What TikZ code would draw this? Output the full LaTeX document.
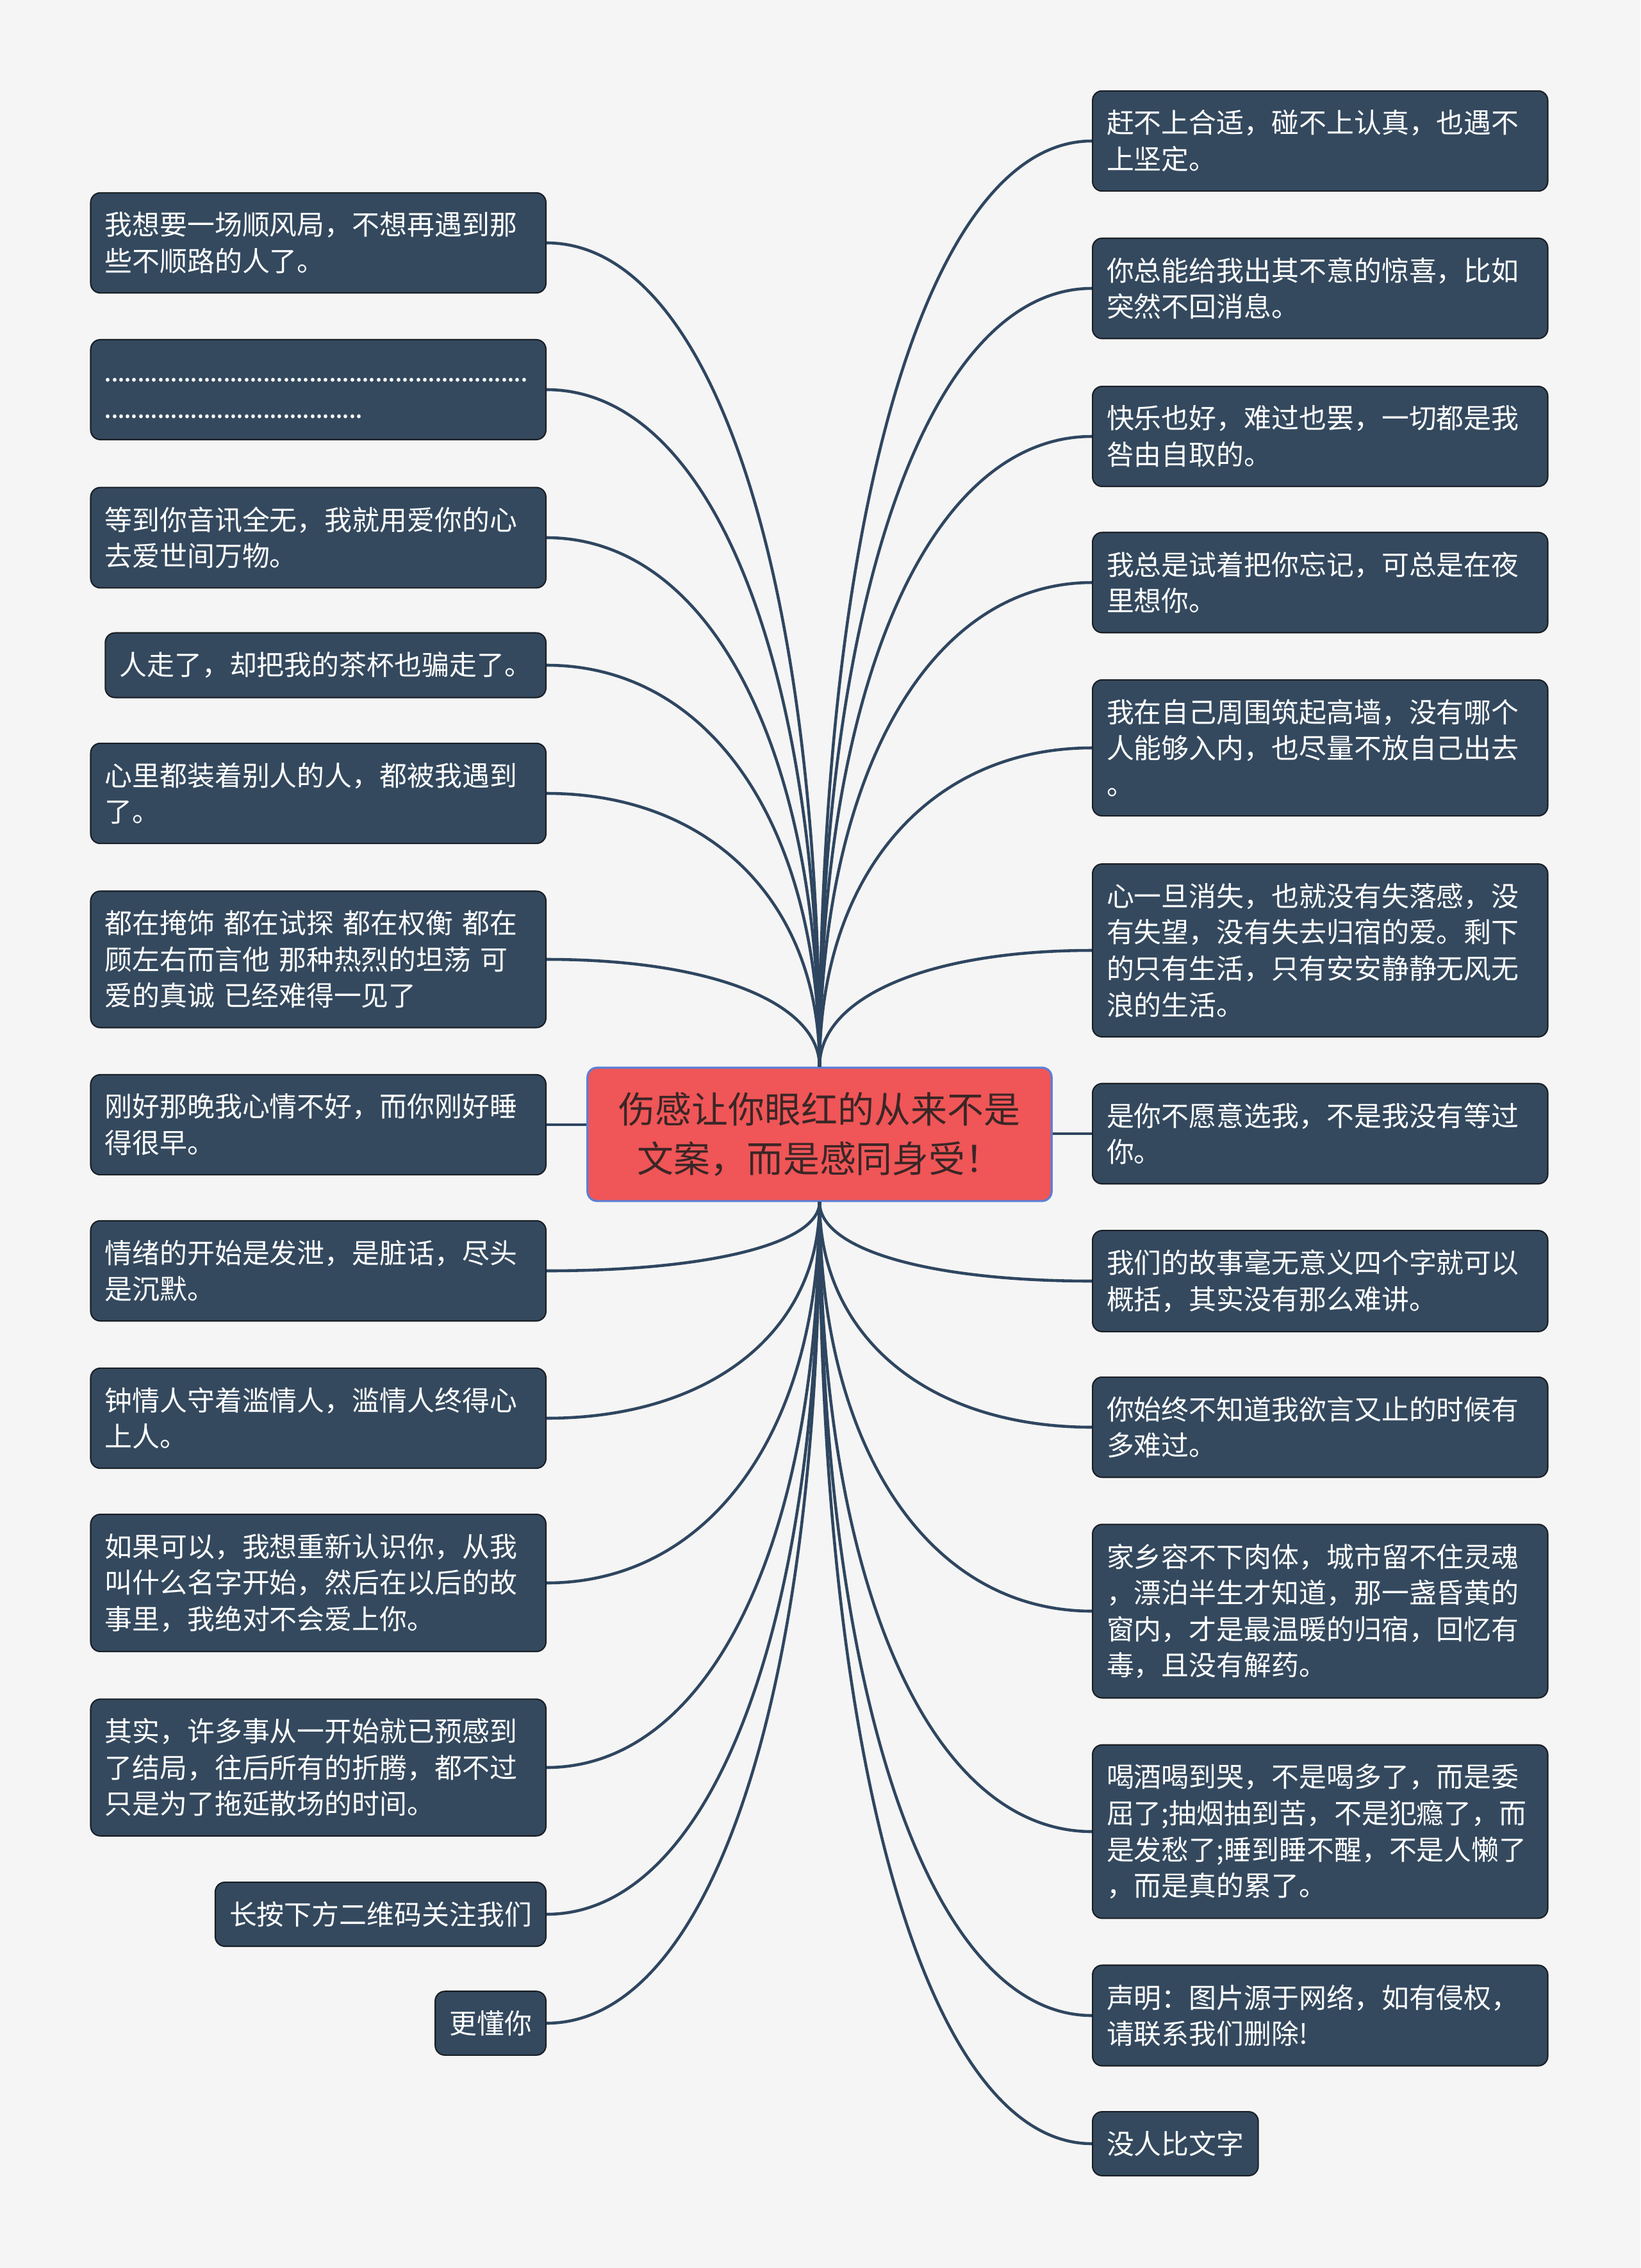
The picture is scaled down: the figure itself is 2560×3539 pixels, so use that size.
\documentclass[tikz,border=0pt]{standalone}
\usepackage{fontspec}
\setmainfont{Noto Sans CJK SC}
\usepackage{tikz}
\usetikzlibrary{calc}
\usepackage{xcolor}

\definecolor{bgcol}{HTML}{F5F5F5}
\definecolor{leaffill}{HTML}{34495E}
\definecolor{leafline}{HTML}{1A1F26}
\definecolor{linkcol}{HTML}{2F4660}
\definecolor{themefill}{HTML}{F05557}
\definecolor{themeline}{HTML}{5B7FD6}
\definecolor{themetext}{HTML}{3A2626}

\newcommand{\dotrun}[1]{\vphantom{我}\makebox[#1][l]{\leaders\hbox to 0.103cm{\hss.\hss}\hfill}}

\begin{document}
\begin{tikzpicture}[
    x=0.01cm, y=-0.01cm,
    theme/.style={rectangle, rounded corners=0.15cm, draw=themeline,
                  line width=0.9pt, fill=themefill, text=themetext,
                  align=center, minimum width=7.24cm, minimum height=2.08cm,
                  font=\fontsize{16.2pt}{21.8pt}\selectfont},
    idea/.style={rectangle, rounded corners=0.15cm, draw=leafline,
                 line width=0.6pt, fill=leaffill, text=white, align=left,
                 inner xsep=0.22cm, inner ysep=0.3cm,
                 font=\fontsize{12.2pt}{16.1pt}\selectfont},
    wide/.style={idea, text width=6.66cm},
    link/.style={draw=linkcol, line width=1.3pt}
  ]

  %% Canvas
  \fill[bgcol] (0,0) rectangle (2560,3539);
  \useasboundingbox (0,0) rectangle (2560,3539);

  %% Central topic
  \node[theme] (theme) at (1279,1770) {伤感让你眼红的从来不是\\文案，而是感同身受！};

  %% Left branches
  \node[wide, anchor=east] (l1) at (853,379) {我想要一场顺风局，不想再遇到那\\些不顺路的人了。};
  \node[wide, anchor=east] (l2) at (853,608) {\dotrun{6.63cm}\\\dotrun{4.06cm}};
  \node[wide, anchor=east] (l3) at (853,839) {等到你音讯全无，我就用爱你的心\\去爱世间万物。};
  \node[idea, anchor=east] (l4) at (853,1038) {人走了，却把我的茶杯也骗走了。};
  \node[wide, anchor=east] (l5) at (853,1238) {心里都装着别人的人，都被我遇到\\了。};
  \node[wide, anchor=east] (l6) at (853,1497) {都在掩饰 都在试探 都在权衡 都在\\顾左右而言他 那种热烈的坦荡 可\\爱的真诚 已经难得一见了};
  \node[wide, anchor=east] (l7) at (853,1755) {刚好那晚我心情不好，而你刚好睡\\得很早。};
  \node[wide, anchor=east] (l8) at (853,1983) {情绪的开始是发泄，是脏话，尽头\\是沉默。};
  \node[wide, anchor=east] (l9) at (853,2213) {钟情人守着滥情人，滥情人终得心\\上人。};
  \node[wide, anchor=east] (l10) at (853,2470) {如果可以，我想重新认识你，从我\\叫什么名字开始，然后在以后的故\\事里，我绝对不会爱上你。};
  \node[wide, anchor=east] (l11) at (853,2758) {其实，许多事从一开始就已预感到\\了结局，往后所有的折腾，都不过\\只是为了拖延散场的时间。};
  \node[idea, anchor=east] (l12) at (853,2987) {长按下方二维码关注我们};
  \node[idea, anchor=east] (l13) at (853,3157) {更懂你};

  %% Right branches
  \node[wide, anchor=west] (r1) at (1704,220) {赶不上合适，碰不上认真，也遇不\\上坚定。};
  \node[wide, anchor=west] (r2) at (1704,450) {你总能给我出其不意的惊喜，比如\\突然不回消息。};
  \node[wide, anchor=west] (r3) at (1704,681) {快乐也好，难过也罢，一切都是我\\咎由自取的。};
  \node[wide, anchor=west] (r4) at (1704,909) {我总是试着把你忘记，可总是在夜\\里想你。};
  \node[wide, anchor=west] (r5) at (1704,1167) {我在自己周围筑起高墙，没有哪个\\人能够入内，也尽量不放自己出去\\。};
  \node[wide, anchor=west] (r6) at (1704,1483) {心一旦消失，也就没有失落感，没\\有失望，没有失去归宿的爱。剩下\\的只有生活，只有安安静静无风无\\浪的生活。};
  \node[wide, anchor=west] (r7) at (1704,1769) {是你不愿意选我，不是我没有等过\\你。};
  \node[wide, anchor=west] (r8) at (1704,1999) {我们的故事毫无意义四个字就可以\\概括，其实没有那么难讲。};
  \node[wide, anchor=west] (r9) at (1704,2227) {你始终不知道我欲言又止的时候有\\多难过。};
  \node[wide, anchor=west] (r10) at (1704,2514) {家乡容不下肉体，城市留不住灵魂\\，漂泊半生才知道，那一盏昏黄的\\窗内，才是最温暖的归宿，回忆有\\毒，且没有解药。};
  \node[wide, anchor=west] (r11) at (1704,2858) {喝酒喝到哭，不是喝多了，而是委\\屈了;抽烟抽到苦，不是犯瘾了，而\\是发愁了;睡到睡不醒，不是人懒了\\，而是真的累了。};
  \node[wide, anchor=west] (r12) at (1704,3145) {声明：图片源于网络，如有侵权，\\请联系我们删除!};
  \node[idea, anchor=west] (r13) at (1704,3345) {没人比文字};

  %% Left links
  \foreach \n in {l1,l2,l3,l4,l5,l6}{
    \draw[link] (\n.east) .. controls ($(\n.east)!0.6!(\n.east -| theme.north)$)
      and ($(theme.north)!0.6!(theme.north |- \n.east)$) .. (theme.north);
  }
  \draw[link] (l7.east) -- (l7.east -| theme.west);
  \foreach \n in {l8,l9,l10,l11,l12,l13}{
    \draw[link] (\n.east) .. controls ($(\n.east)!0.6!(\n.east -| theme.south)$)
      and ($(theme.south)!0.6!(theme.south |- \n.east)$) .. (theme.south);
  }

  %% Right links
  \foreach \n in {r1,r2,r3,r4,r5,r6}{
    \draw[link] (\n.west) .. controls ($(\n.west)!0.6!(\n.west -| theme.north)$)
      and ($(theme.north)!0.6!(theme.north |- \n.west)$) .. (theme.north);
  }
  \draw[link] (r7.west) -- (r7.west -| theme.east);
  \foreach \n in {r8,r9,r10,r11,r12,r13}{
    \draw[link] (\n.west) .. controls ($(\n.west)!0.6!(\n.west -| theme.south)$)
      and ($(theme.south)!0.6!(theme.south |- \n.west)$) .. (theme.south);
  }

\end{tikzpicture}
\end{document}
